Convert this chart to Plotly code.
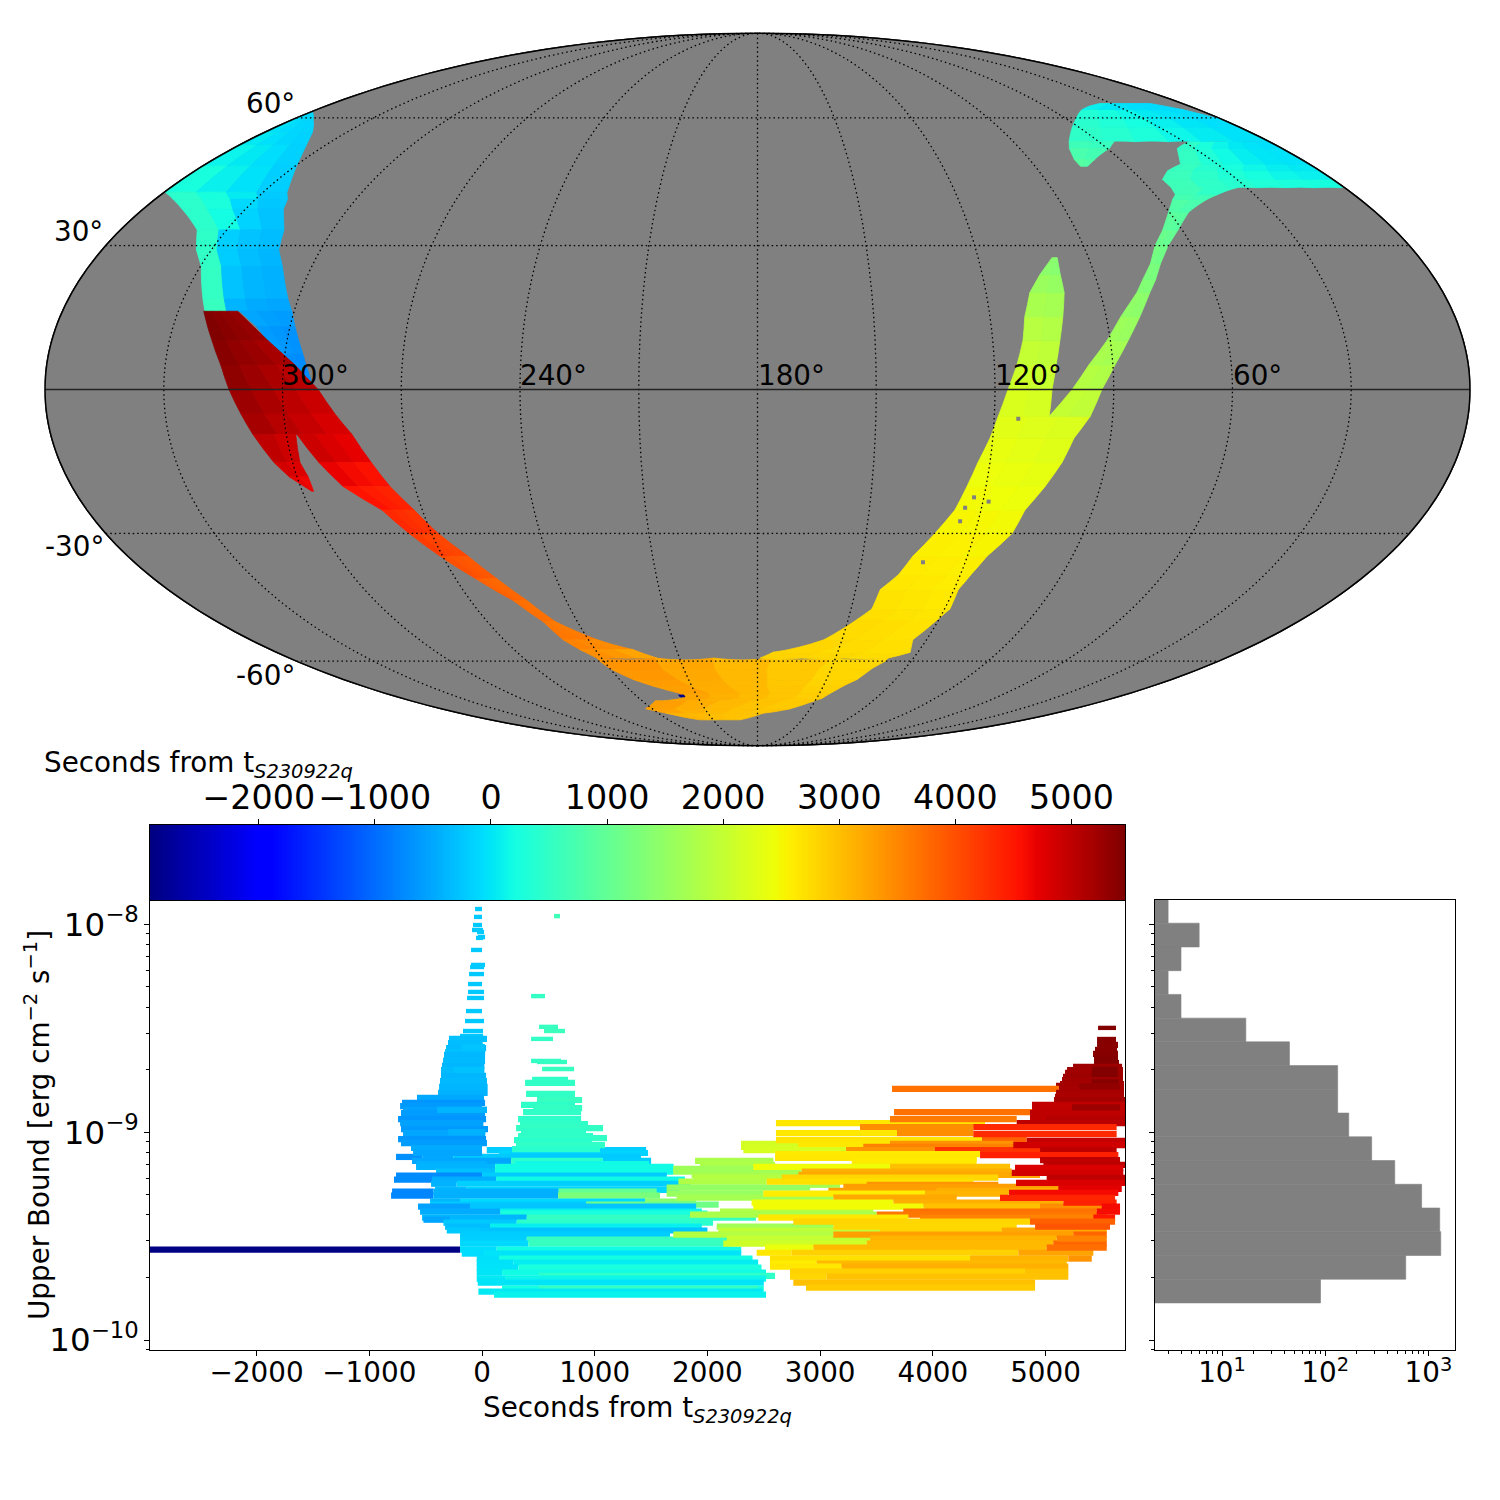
import numpy as np
import plotly.graph_objects as go

# ---------- colour scale (matplotlib jet) ----------
jet_pos = [0, .11, .125, .34, .35, .375, .64, .65, .66, .89, .91, 1]
jet_r = [0, 0, 0, 0, 0, .081, .935, .968, 1, 1, .909, .5]
jet_g = [0, 0, 0, .86, .9, 1, 1, .963, .926, .074, 0, 0]
jet_b = [.5, 1, 1, 1, .968, .887, .032, 0, 0, 0, 0, 0]
CMIN, CMAX = -2937, 5461
jet_scale = [[p, f"rgb({round(r*255)},{round(g*255)},{round(b*255)})"]
             for p, r, g, b in zip(jet_pos, jet_r, jet_g, jet_b)]

# ---------- sky map: rows of (dec, RA left edge, RA right edge, [seconds per cell]) ----------
sky_west_lobe = [
 (61.4,359.5,358.5,[-100,-100,-100,-100]),(59.4,359.5,351.5,[-30,-80,-120,-130]),
 (56.3,359.5,342.6,[30,-50,-120,-150]),(53,359.5,336.6,[120,30,-60,-170]),
 (47.9,359.5,329.5,[250,100,-30,-180]),(41.8,359.5,322.7,[430,250,50,-220]),
 (40.2,354.5,320.4,[450,280,-100,-250]),(38,348.5,318.9,[450,200,-150,-280]),
 (33.4,338.3,313.8,[470,-180,-280,-330]),(29.1,334.1,311.5,[500,-200,-320,-380]),
 (25.5,329.7,307.9,[520,-280,-380,-430]),(18.6,324.8,302.6,[560,-400,-480,-520]),
 (16.1,323.1,300.6,[]),
]
sky_west_tail = [
 (16.1,314.1,300.6,[-520,-570,-600]),(12.9,308.5,298.7,[-600,-640,-680]),
 (7.2,301.7,295.4,[-700,-720,-740]),(1.4,293.6,292.6,[]),
]
sky_red_head = [
 (16.1,323.4,314.6,[5450,5400,5350,5300]),(10,319.1,304.8,[5400,5330,5260,5180]),
 (5,315.9,297.1,[5350,5250,5150,5050]),(0,313.5,291,[5250,5150,5020,4920]),
 (-5,310.8,287,[5180,5060,4950,4830]),(-9.2,308.5,283.3,[]),
]
sky_red_fork = [
 (-9.2,308.5,297.6,[5000,4900]),(-15,304.8,298.1,[4850,4780]),
 (-18,302,297.1,[4700,4650]),(-21,297.5,297,[]),
]
sky_red_arc = [
 (-9.2,297.3,283.3,[4900,4800,4720]),(-15,293.2,279.7,[4700,4620,4560]),
 (-20,288.8,276.5,[4540,4460,4400]),(-25,280.8,272.2,[4350,4300,4250]),
 (-30,276.2,268.2,[4180,4120,4080]),(-35,270.7,262.7,[4000,3960,3920]),
 (-40,264,257.7,[3840,3800,3780]),(-45,256.6,252.3,[3730,3710,3700]),
 (-50,251.4,247.4,[3650,3630,3600]),(-54.5,249,236.9,[3550,3500,3470]),
 (-57,245.7,226.1,[3430,3350,3250]),(-59.2,241.7,218.7,[]),
]
sky_south_cap = [
 (-59.2,241.7,129.8,[3400,3220,3050,2920,2780]),(-60,241.6,130.1,[3400,3220,3060,2930,2790]),
 (-62,240,133.5,[3360,3200,3060,2930,2800]),(-65,234.1,136.7,[3320,3180,3060,2940,2830]),
 (-66.8,227.9,140.8,[3280,3160,3050,2950,2860]),(-69,217.6,144.8,[3240,3130,3040,2950,2880]),
 (-70.5,217.8,147.3,[3260,3150,3050,2970,2900]),(-71.4,233.4,150.8,[3300,3170,3060,2980,2920]),
 (-73.8,243.5,161.3,[3260,3140,3050,2990,2950]),(-75.3,235.2,176.6,[3100,3060,3020,2990,2970]),
 (-77.6,218.9,191.8,[]),
]
sky_east_arc = [
 (-59.2,179,129.8,[2830,2790,2750]),(-57.7,174.2,122.9,[2800,2760,2720]),
 (-54.5,156.4,124.9,[2760,2730,2700]),(-49.5,147,120.4,[2720,2690,2660]),
 (-47,143.3,118.3,[2690,2660,2630]),(-42.5,142.5,118.7,[2650,2630,2600]),
 (-39.1,138.3,116.9,[2620,2600,2570]),(-35,135.6,114.4,[2580,2560,2530]),
 (-30,131,109.7,[2520,2500,2470]),(-25,127,108.2,[2470,2440,2410]),
 (-20,125,104.5,[2420,2390,2350]),(-15,123.1,101.4,[2370,2330,2290]),
 (-10,120.7,99.3,[2300,2260,2230]),(-5.5,119,95.7,[]),
]
sky_east_finger = [
 (-5.5,119,106.1,[2220,2180]),(0,116.7,105.6,[2100,2050]),(5,114.3,104.4,[2000,1950]),
 (10,112.3,102.9,[1870,1820]),(15,111,101.2,[1730,1680]),(20,108.5,99.5,[1580,1520]),
 (23.8,104.6,99.2,[1420,1380]),(27.4,99.9,98.5,[]),
]
sky_east_strand = [
 (-5.5,106.1,95.7,[2000,1960]),(0,100.5,93,[1850,1800]),(5,96.1,89.5,[1720,1680]),
 (10,90.9,85.5,[1600,1560]),(15,86.2,81.3,[1470,1430]),(20,80.4,77,[1340,1310]),
 (22.7,77.7,74.3,[1260,1240]),(26.1,73.9,71.2,[1190,1150]),(30,70.2,66.6,[1080,1040]),
 (33.4,65.5,61.2,[940,900]),(37.3,60.3,54.5,[830,760]),(40.2,56,45.8,[700,640]),
 (41.3,53.9,41.2,[640,480]),(42.9,53.1,33,[]),
]
sky_east_shelf = [
 (42.9,53.1,0.5,[620,480,400,320,280,250]),(44.8,53.3,0.5,[600,460,340,240,140,90]),
 (46.8,48.8,0.5,[560,400,260,150,70,30]),(48.4,42,0.5,[520,330,180,70,10,-20]),
 (52.2,36,0.5,[480,280,130,30,-20,-50]),(53.9,28.2,0.5,[]),
]
sky_east_arm = [
 (53.9,70.4,0.5,[470,400,300,150,50,-30]),(57.5,62.6,0.5,[420,330,230,90,10,-50]),
 (59.7,56.4,0.6,[350,250,150,40,-20,-60]),(62.2,47.6,6.3,[100,20,-20,-50,-70,-80]),
 (63.9,34.9,13.7,[]),
]
sky_east_hook = [
 (53.9,70.4,54.6,[620,560]),(52.2,73,59.3,[760,680]),(49.5,75.2,68.5,[880,820]),(47.9,75.3,73,[]),
]
sky_first_pixel = [(-69.5,218.7,216.2,[-2900]),(-70.1,218.7,216.2,[])]
sky_regions = [sky_west_lobe, sky_west_tail, sky_red_head, sky_red_fork, sky_red_arc,
               sky_south_cap, sky_east_arc, sky_east_finger, sky_east_strand, sky_east_shelf, sky_east_arm,
               sky_east_hook, sky_first_pixel]
hole_ra = [113.9, 122.6, 118.5, 124.4, 124.9, 132.2]
hole_dec = [-6, -22.3, -23.2, -24.5, -27.4, -36.3]
ra_grid = [30, 60, 90, 120, 150, 180, 210, 240, 270, 300, 330]
dec_grid = [-60, -30, 30, 60]

# ---------- upper-limit bars: (log10 upper bound, start s, end s, colour s) ----------
bars_spike = [
 (-7.926,-62,0,-230),(-7.964,-71,0,-230),(-8.003,-80,0,-230),(-8.027,-89,9,-230),(-8.037,-44,18,-230),
 (-8.061,-35,27,-230),(-8.065,-53,9,-230),(-8.123,-98,0,-230),(-8.195,-98,27,-230),(-8.205,-106,18,-230),
 (-8.239,-115,18,-230),(-8.287,-124,0,-230),(-8.325,-124,18,-230),(-8.354,-133,18,-230),(-8.417,-142,0,-230),
 (-8.465,-151,18,-230),(-8.513,-169,9,-230),(-8.537,-195,9,-250),
 (-8.551,-293,44,-300),(-8.571,-302,6,-330),(-8.595,-319,36,-340),(-8.614,-328,27,-300),(-8.628,-337,27,-370),
 (-8.657,-346,27,-350),(-8.681,-355,21,-380),(-8.701,-364,21,-340),(-8.729,-364,36,-390),(-8.754,-373,44,-360),
 (-8.782,-381,50,-380),(-8.811,-390,50,-420),(-8.835,-577,18,-500),(-8.859,-710,27,-650),(-8.874,-727,0,-620),
 (-8.893,-701,44,-560),(-8.908,-719,27,-600),(-8.937,-745,36,-660),(-8.956,-727,12,-560),(-8.985,-719,53,-620),
 (-9.004,-701,27,-520),(-9.033,-745,36,-640),(-9.052,-719,44,-590),(-9.076,-630,0,-480),(-9.100,-612,0,-520),
 (-8.70,-250,15,-290),(-8.59,-180,25,-280),(-8.893,-399,44,-400),(-9.0,-300,30,-430),
]
bars_hill = [
 (-7.960,639,692,640),(-8.345,435,559,520),(-8.493,506,674,560),(-8.513,550,736,600),(-8.551,435,630,500),
 (-8.657,435,701,510),(-8.662,488,754,530),(-8.696,533,817,560),(-8.744,444,763,480),(-8.763,382,825,500),
 (-8.816,391,825,500),(-8.845,488,888,560),(-8.869,346,825,470),(-8.884,453,888,530),(-8.903,364,879,490),
 (-8.937,320,879,460),(-8.961,337,941,490),(-8.980,302,1074,520),(-8.995,346,923,470),(-9.019,320,985,460),
 (-9.028,320,1109,510),(-9.038,284,976,440),(-9.062,302,1091,490),(-9.081,266,1047,420),
]
bars_teal = [
 (-9.086,42,1456,-200),(-9.100,151,1473,-150),(-9.119,-763,-529,-700),(-9.119,-529,-254,-500),(-9.119,-254,1411,-220),
 (-9.138,-621,258,-520),(-9.138,258,1074,430),(-9.138,1074,1500,-200),(-9.153,-585,42,-430),(-9.153,293,1482,170),
 (-9.167,-585,116,-400),(-9.167,116,1700,180),(-9.190,-408,116,-300),(-9.190,116,1700,180),(-9.209,-763,0,-740),
 (-9.209,0,1640,-200),(-9.228,-781,-444,-740),(-9.228,-444,125,-450),(-9.228,125,1800,170),(-9.248,-452,-225,-420),
 (-9.248,-225,1850,-180),(-9.277,-417,-136,-350),(-9.277,-136,1750,-120),(-9.286,-798,-432,-780),(-9.286,-432,678,-430),
 (-9.286,678,1550,1000),(-9.305,-807,-432,-780),(-9.305,-432,675,-440),(-9.305,675,1580,1260),(-9.334,-461,-195,-380),
 (-9.334,-195,1447,-100),(-9.334,1447,1900,1400),(-9.349,-461,923,-220),(-9.349,923,2100,1150),(-9.358,-568,-106,-560),
 (-9.358,-106,1900,-260),(-9.382,-550,160,-470),(-9.382,160,1950,90),(-9.392,169,2000,250),(-9.411,-532,397,-380),
 (-9.411,397,2430,520),(-9.421,-520,-284,-530),(-9.435,-343,308,-230),(-9.435,308,2050,450),(-9.454,-328,71,-320),
 (-9.454,71,1950,80),(-9.473,-313,-18,-230),(-9.473,-18,2000,-270),(-9.493,-195,1668,-200),(-9.517,-195,397,-180),
 (-9.517,397,2200,550),(-9.536,-195,411,-100),(-9.536,411,2200,560),(-9.565,-2946,-195,-2900),(-9.565,-195,130,-60),
 (-9.565,130,2300,180),(-9.584,-180,18,-70),(-9.584,18,2300,-20),(-9.608,-47,151,-50),(-9.608,151,2400,200),
 (-9.628,-47,278,-30),(-9.628,278,2450,60),(-9.652,-47,323,-20),(-9.652,323,2480,260),(-9.676,-47,178,0),
 (-9.676,178,2520,180),(-9.691,506,2600,480),(-9.705,-47,204,20),(-9.705,204,2520,140),(-9.724,-38,2500,-10),
 (-9.753,178,2500,220),(-9.753,506,2450,520),(-9.767,-32,2490,30),(-9.782,107,2520,100),
]
bars_lime = [
 (-9.056,2298,2804,2150),(-9.071,2298,3383,2170),(-9.086,2319,3230,2200),(-9.138,1890,2585,1750),(-9.157,1934,2600,1780),
 (-9.176,1697,2407,1620),(-9.190,1697,2836,1640),(-9.205,1860,2807,1700),(-9.219,1875,2659,1850),(-9.238,1742,2526,1800),
 (-9.253,2910,3176,1700),(-9.267,1638,2910,1500),(-9.296,1638,2496,1550),(-9.315,1727,3117,1680),(-9.382,2111,3472,1800),
 (-9.397,1845,3502,1750),(-9.454,2082,3117,1650),(-9.473,2097,3531,1950),(-9.493,1697,3117,1850),(-9.512,2171,3443,2000),
 (-9.536,2141,3413,2100),
]
bars_yellow = [
 (-8.956,2608,4463,2650),(-8.975,3354,4360,3450),(-9.004,2608,3682,2650),(-9.004,3682,4360,3450),(-9.038,2608,4436,2680),
 (-9.038,4436,4833,3850),(-9.056,2804,3620,2650),(-9.056,3620,4714,3400),(-9.071,3383,4951,3550),(-9.086,3230,4019,3400),
 (-9.086,4019,4951,4250),(-9.105,2600,4419,2620),(-9.124,2600,4389,2650),(-9.138,3280,4389,2620),(-9.167,2407,3620,2450),
 (-9.167,3620,4685,3000),(-9.190,2836,4700,3150),(-9.205,2807,4951,3200),(-9.219,2659,4581,2800),(-9.238,2526,4360,2700),
 (-9.253,3413,4581,3400),(-9.263,3206,5217,3300),(-9.282,3073,4034,3300),(-9.282,4034,5114,3150),(-9.296,2496,3931,2600),
 (-9.296,3931,4670,3100),(-9.315,3117,4212,3200),(-9.339,2392,3650,2450),(-9.339,3650,5158,3150),(-9.358,2407,3916,2470),
 (-9.358,3916,4951,3000),(-9.358,4951,5513,3450),(-9.382,3738,5454,3700),(-9.397,3502,5543,3650),(-9.411,2452,3783,2650),
 (-9.411,3886,5543,3550),(-9.430,2762,4862,2800),(-9.454,3117,4744,2780),(-9.473,3531,4611,2800),(-9.473,4611,5543,3200),
 (-9.493,3117,5247,3280),(-9.512,3443,5099,3100),(-9.536,3413,5069,3050),(-9.555,2511,2940,2400),(-9.555,2940,5010,3050),
 (-9.580,2437,2747,2650),(-9.580,2747,4759,2850),(-9.580,4759,5424,3250),(-9.608,2555,4330,2700),(-9.608,4330,5202,3100),
 (-9.632,2555,2969,2600),(-9.632,2969,5188,3050),(-9.647,2555,3191,2650),(-9.647,3191,5202,3150),(-9.671,2733,4818,2850),
 (-9.671,4818,5202,3000),(-9.695,2733,3058,2800),(-9.695,3058,5202,2980),(-9.724,2762,4907,3000),(-9.748,2875,4907,2900),
]
bars_red = [
 (-8.498,5466,5625,5440),(-8.556,5457,5625,5420),(-8.580,5457,5643,5400),(-8.604,5439,5634,5400),(-8.623,5421,5643,5420),
 (-8.648,5430,5643,5440),(-8.667,5430,5652,5450),(-8.686,5244,5679,5260),(-8.701,5191,5687,5230),(-8.715,5173,5687,5220),
 (-8.734,5155,5687,5250),(-8.749,5146,5687,5220),(-8.768,5128,5696,5200),(-8.777,5093,5696,5190),(-8.792,3638,5120,3700),
 (-8.792,5120,5696,5180),(-8.811,5093,5696,5170),(-8.830,5084,5696,5150),(-8.845,5075,5705,5200),(-8.869,4880,5705,4990),
 (-8.888,4880,5705,4990),(-8.903,3656,4880,3700),(-8.908,4862,5705,5000),(-8.927,4862,5705,5000),(-8.937,3620,4744,3620),
 (-8.937,5004,5705,5080),(-8.956,4744,5705,5040),(-8.975,4359,5631,4350),(-9.009,4359,5631,4330),(-9.042,4833,5705,4960),
 (-9.062,4714,5705,4880),(-9.086,4951,5631,5000),(-9.110,4419,5646,4420),(-9.134,4951,5661,5000),(-9.157,4981,5705,5030),
 (-9.172,4729,5690,4800),(-9.196,4700,5690,4860),(-9.220,5010,5705,5000),(-9.244,4738,5705,4800),(-9.273,5114,5676,4750),
 (-9.292,4676,5646,4620),(-9.316,4596,5617,4380),(-9.339,5158,5631,4400),(-9.358,5498,5661,4620),(-9.382,5454,5661,4600),
 (-9.411,5424,5617,4500),(-9.430,4862,5617,3850),(-9.454,4907,5572,3950),(-9.493,5247,5543,3800),(-9.536,5069,5543,3800),
 (-9.555,5010,5543,3720),(-9.512,5099,5543,3550),(-9.608,5202,5410,3400),
 (-8.72,5410,5640,5440),(-8.70,5412,5640,5450),(-8.76,5409,5650,5420),(-8.78,5300,5660,5320),(-8.88,5235,5660,5250),
]
bar_groups = [bars_teal, bars_spike, bars_hill, bars_lime, bars_yellow, bars_red]

# ---------- side histogram ----------
hist_log_edges = [-9.8215,-9.7073,-9.5931,-9.4789,-9.3647,-9.2505,-9.1363,-9.0221,-8.9079,-8.7937,
                  -8.6795,-8.5653,-8.4511,-8.3369,-8.2227,-8.1085,-7.9943,-7.8801]
hist_counts = [90,603,1318,1288,860,472,282,169,132,132,45,17,4,3,4,6,3]
hist_ticks = [10, 100, 1000]
hist_tick_text = ["10<sup>1</sup>", "10<sup>2</sup>", "10<sup>3</sup>"]

# ---------- helpers ----------
def jet(t):
    f = (t - CMIN) / (CMAX - CMIN)
    return "rgb(%d,%d,%d)" % tuple(round(255 * float(np.interp(f, jet_pos, c))) for c in (jet_r, jet_g, jet_b))

THIN_DEX, THICK_DEX = 0.021, 0.03
TITLE_X = "Seconds from t<sub><i>S230922q</i></sub>"
fig = go.Figure()

# grey sphere
for x0 in range(-180, 180, 30):
    x1 = x0 + 30
    a, b = max(x0, -179.99), min(x1, 179.99)
    lats = [-89.9, -60, -30, 0, 30, 60, 89.9]
    fig.add_trace(go.Scattergeo(lon=[a]*7 + [b]*7 + [a], lat=lats + lats[::-1] + [-89.9], mode="lines",
                                fill="toself", fillcolor="#808080", line=dict(color="#808080", width=1),
                                hoverinfo="skip", showlegend=False))

# swath cells (clockwise rings)
for rows in sky_regions:
    for r0, r1 in zip(rows[:-1], rows[1:]):
        cells = r0[3] if r0[3] else r1[3]
        n = len(cells)
        hi, lo = (r0, r1) if r0[0] > r1[0] else (r1, r0)
        xh0, xh1 = 180 - hi[1], 180 - hi[2]
        xl0, xl1 = 180 - lo[1], 180 - lo[2]
        for k, t in enumerate(cells):
            lon = [xh0 + (xh1 - xh0) * k / n, xh0 + (xh1 - xh0) * (k + 1) / n,
                   xl0 + (xl1 - xl0) * (k + 1) / n, xl0 + (xl1 - xl0) * k / n]
            lat = [hi[0], hi[0], lo[0], lo[0]]
            c = jet(t)
            fig.add_trace(go.Scattergeo(lon=lon + lon[:1], lat=lat + lat[:1], mode="lines", fill="toself",
                                        fillcolor=c, line=dict(color=c, width=0.8),
                                        hoverinfo="skip", showlegend=False))

# holes
fig.add_trace(go.Scattergeo(lon=[180 - r for r in hole_ra], lat=hole_dec, mode="markers",
                            marker=dict(symbol="square", size=4, color="#808080"),
                            hoverinfo="skip", showlegend=False))

# graticule
lat_path = list(range(-90, 91, 10))
for ra in ra_grid:
    fig.add_trace(go.Scattergeo(lon=[180 - ra] * len(lat_path), lat=lat_path, mode="lines",
                                line=dict(color="black", width=1.3, dash="1.5px,3px"),
                                hoverinfo="skip", showlegend=False))
lon_path = list(range(-180, 181, 5))
for dec in dec_grid:
    fig.add_trace(go.Scattergeo(lon=lon_path, lat=[dec] * len(lon_path), mode="lines",
                                line=dict(color="black", width=1.3, dash="1.5px,3px"),
                                hoverinfo="skip", showlegend=False))
fig.add_trace(go.Scattergeo(lon=lon_path, lat=[0] * len(lon_path), mode="lines",
                            line=dict(color="#222222", width=1.6), hoverinfo="skip", showlegend=False))
for edge in (-179.99, 179.99):
    fig.add_trace(go.Scattergeo(lon=[edge] * len(lat_path), lat=lat_path, mode="lines",
                                line=dict(color="black", width=1.5), hoverinfo="skip", showlegend=False))

# colour bar strip
ramp = np.linspace(CMIN, CMAX, 400)
fig.add_trace(go.Heatmap(x=ramp, y=[0, 1], z=[ramp, ramp], coloraxis="coloraxis", xaxis="x3", yaxis="y3",
                         hoverinfo="skip"))

# upper limit bars
all_bars = [b for g in bar_groups for b in g]
lg = np.array([b[0] for b in all_bars])
colr = np.array([b[3] for b in all_bars])
dex = np.where((lg > -8.54) | ((lg > -8.75) & (colr > 400) & (colr < 800)), THIN_DEX, THICK_DEX)
up, low = 10 ** (lg + dex / 2), 10 ** (lg - dex / 2)
fig.add_trace(go.Bar(orientation="h", y=(up + low) / 2, width=up - low,
                     base=[b[1] for b in all_bars], x=[b[2] - b[1] for b in all_bars],
                     marker=dict(color=[b[3] for b in all_bars], coloraxis="coloraxis", line=dict(width=0)),
                     xaxis="x", yaxis="y", hoverinfo="skip", showlegend=False))

# histogram
e = 10 ** np.array(hist_log_edges)
fig.add_trace(go.Bar(orientation="h", y=(e[1:] + e[:-1]) / 2, width=e[1:] - e[:-1], x=hist_counts,
                     marker=dict(color="#808080", line=dict(width=0.6, color="#808080")), xaxis="x2", yaxis="y2",
                     hoverinfo="skip", showlegend=False))

W = 1500.0
OFF = 8.0   # the page body margin
def fx(p): return (p - OFF) / W
def fy(p): return 1 - (p - OFF) / W
FONT = "DejaVu Sans"
axis_common = dict(showline=True, linecolor="black", linewidth=1.2, mirror=True, ticks="outside",
                   ticklen=5, tickwidth=1.1, tickcolor="black", showgrid=False, zeroline=False, automargin=False)
log_y_range = [-10.048, -7.8826]
minor = dict(ticks="outside", ticklen=3, tickwidth=0.8, tickcolor="black", showgrid=False)
minor_d1 = dict(minor, tickmode="linear", dtick="D1")

labels = [("60°", 244, 103), ("30°", 52, 231), ("-30°", 43, 547), ("-60°", 234, 675),
          ("300°", 280, 375), ("240°", 518, 375), ("180°", 756, 375), ("120°", 993, 375), ("60°", 1231, 375)]
annotations = [dict(text=t, x=fx(x), y=fy(y), xref="paper", yref="paper", xanchor="left", yanchor="middle",
                    showarrow=False, font=dict(size=27.8, color="black")) for t, x, y in labels]
annotations.append(dict(text=TITLE_X, x=fx(42), y=fy(764), xref="paper", yref="paper", xanchor="left",
                        yanchor="middle", showarrow=False, font=dict(size=27.8, color="black")))
annotations.append(dict(text=TITLE_X, x=fx(637), y=fy(1409), xref="paper", yref="paper", xanchor="center",
                        yanchor="middle", showarrow=False, font=dict(size=27.8, color="black")))
annotations.append(dict(text="Upper Bound [erg cm<sup>−2</sup> s<sup>−1</sup>]", x=fx(37), y=fy(1125), xref="paper",
                        yref="paper", xanchor="center", yanchor="middle", textangle=-90, showarrow=False,
                        font=dict(size=27.8, color="black")))

fig.update_layout(
    width=1500, height=1500, margin=dict(l=0, r=0, t=0, b=0), paper_bgcolor="white", plot_bgcolor="white",
    font=dict(family=FONT, size=27.8, color="black"), showlegend=False, barmode="overlay",
    coloraxis=dict(colorscale=jet_scale, cmin=CMIN, cmax=CMAX, showscale=False),
    geo=dict(domain=dict(x=[fx(45), fx(1470)], y=[fy(746), fy(33)]),
             projection=dict(type="mollweide"), bgcolor="white",
             showland=False, showocean=False, showlakes=False, showrivers=False, showcountries=False,
             showcoastlines=False, showsubunits=False, showframe=True, framecolor="black", framewidth=1.5,
             lonaxis=dict(showgrid=False), lataxis=dict(showgrid=False)),
    xaxis=dict(domain=[fx(150), fx(1125)], range=[-2946, 5705], dtick=1000, tick0=0, anchor="y",
               tickfont=dict(size=27.8), ticklabelstandoff=-7, **axis_common),
    yaxis=dict(domain=[fy(1350), fy(900)], type="log", range=log_y_range, dtick=1, anchor="x", exponentformat="power",
               tickfont=dict(size=26), minor=minor, **axis_common),
    xaxis2=dict(domain=[fx(1155), fx(1455)], type="log", range=[0.350, 3.258], tickmode="array",
                tickvals=hist_ticks, ticktext=hist_tick_text, anchor="y2", ticklabelstandoff=-7,
                tickfont=dict(size=27.8), minor=minor_d1, **axis_common),
    yaxis2=dict(domain=[fy(1350), fy(900)], type="log", range=log_y_range, dtick=1, anchor="x2",
                showticklabels=False, minor=minor, **axis_common),
    xaxis3=dict(domain=[fx(150), fx(1125)], range=[CMIN, CMAX], dtick=1000, tick0=0, anchor="y3", side="top",
                tickfont=dict(size=33.3), ticklabelstandoff=-3, **axis_common),
    yaxis3=dict(domain=[fy(900), fy(825)], range=[0, 1], anchor="x3", showticklabels=False, showline=True,
                linecolor="black", linewidth=1.2, mirror=True, ticks="", showgrid=False, zeroline=False, automargin=False),
    annotations=annotations,
)
fig.write_html("out.html")
